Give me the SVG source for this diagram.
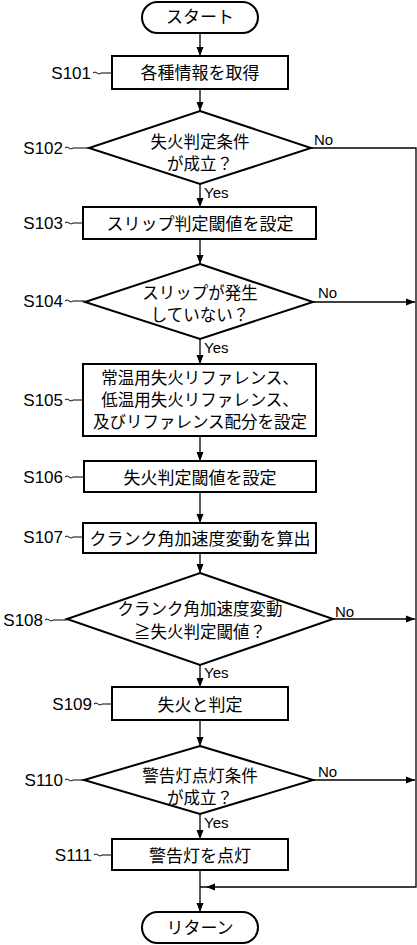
<svg xmlns="http://www.w3.org/2000/svg" width="417" height="945" viewBox="0 0 417 945">
<style>
.shape{fill:#fff;stroke:#000;stroke-width:2}
.line{fill:none;stroke:#000;stroke-width:1.3}
.lead{fill:none;stroke:#000;stroke-width:1}
.jp{font-family:"Noto Sans CJK JP","Noto Sans CJK SC",sans-serif;font-size:17px;text-anchor:middle;fill:#000}
.jm{font-family:"Noto Sans CJK JP","Noto Sans CJK SC",sans-serif;font-size:16.5px;text-anchor:middle;fill:#000}
.lbl{font-family:"Liberation Sans",Arial,sans-serif;font-size:17px;text-anchor:end;fill:#000}
.yn{font-family:"Liberation Sans",Arial,sans-serif;font-size:15px;fill:#000}
</style>
<defs>
<marker id="arr" markerUnits="userSpaceOnUse" markerWidth="10" markerHeight="7" refX="9" refY="3.5" orient="auto" overflow="visible">
<path d="M0,0 L9,3.5 L0,7 z" fill="#000"/>
</marker>
<marker id="arrOff" markerUnits="userSpaceOnUse" markerWidth="16" markerHeight="7" refX="15" refY="3.5" orient="auto" overflow="visible">
<path d="M0,0 L9,3.5 L0,7 z" fill="#000"/>
</marker>
</defs>

<g id="connectors">
<line class="line" x1="200" y1="33" x2="200" y2="56" marker-end="url(#arr)"/>
<line class="line" x1="200" y1="89" x2="200" y2="111" marker-end="url(#arr)"/>
<line class="line" x1="200" y1="184" x2="200" y2="207" marker-end="url(#arr)"/>
<line class="line" x1="200" y1="239" x2="200" y2="264" marker-end="url(#arr)"/>
<line class="line" x1="200" y1="339" x2="200" y2="364" marker-end="url(#arr)"/>
<line class="line" x1="200" y1="436" x2="200" y2="461" marker-end="url(#arr)"/>
<line class="line" x1="200" y1="492" x2="200" y2="523" marker-end="url(#arr)"/>
<line class="line" x1="200" y1="553" x2="200" y2="573" marker-end="url(#arr)"/>
<line class="line" x1="200" y1="665" x2="200" y2="687" marker-end="url(#arr)"/>
<line class="line" x1="200" y1="720" x2="200" y2="746" marker-end="url(#arr)"/>
<line class="line" x1="200" y1="814" x2="200" y2="839" marker-end="url(#arr)"/>
<line class="line" x1="200" y1="870" x2="200" y2="912" marker-end="url(#arr)"/>
<polyline class="line" points="311,148 416,148 416,887 200,887" marker-end="url(#arrOff)"/>
<line class="line" x1="313" y1="302" x2="415" y2="302" marker-end="url(#arr)"/>
<line class="line" x1="333" y1="619" x2="415" y2="619" marker-end="url(#arr)"/>
<line class="line" x1="313" y1="780" x2="415" y2="780" marker-end="url(#arr)"/>
<text class="yn" x="204" y="198">Yes</text>
<text class="yn" x="204" y="353">Yes</text>
<text class="yn" x="204" y="678">Yes</text>
<text class="yn" x="204" y="828">Yes</text>
<text class="yn" x="314" y="145">No</text>
<text class="yn" x="318" y="298">No</text>
<text class="yn" x="335" y="617">No</text>
<text class="yn" x="318" y="777">No</text>
</g>

<g id="start">
<rect class="shape" x="142" y="2" width="116" height="31" rx="15.5"/>
<text class="jp" x="200" y="23">スタート</text>
</g>

<g id="S101">
<rect class="shape" x="112" y="56" width="176" height="33"/>
<text class="jp" x="200" y="79">各種情報を取得</text>
<text class="lbl" x="91" y="79">S101</text>
<path class="lead" d="M93,73 C96,70 98,76 101,73 L112,73"/>
</g>

<g id="S102">
<polygon class="shape" points="200,111 311,148 200,184 89,148"/>
<text class="jm" x="200" y="148">失火判定条件</text>
<text class="jm" x="200" y="170">が成立？</text>
<text class="lbl" x="63" y="154">S102</text>
<path class="lead" d="M65,148 C68,145 70,151 73,148 L89,148"/>
</g>

<g id="S103">
<rect class="shape" x="83" y="207" width="233" height="32"/>
<text class="jp" x="200" y="229.5">スリップ判定閾値を設定</text>
<text class="lbl" x="63" y="229">S103</text>
<path class="lead" d="M65,223 C68,220 70,226 73,223 L83,223"/>
</g>

<g id="S104">
<polygon class="shape" points="200,264 313,302 200,339 85,302"/>
<text class="jm" x="200" y="298.5">スリップが発生</text>
<text class="jm" x="200" y="320.5">していない？</text>
<text class="lbl" x="63" y="307">S104</text>
<path class="lead" d="M65,301 C68,298 70,304 73,301 L85,301"/>
</g>

<g id="S105">
<rect class="shape" x="83" y="364" width="233" height="72"/>
<text class="jm" x="200" y="384">常温用失火リファレンス、</text>
<text class="jm" x="200" y="406">低温用失火リファレンス、</text>
<text class="jm" x="200" y="428">及びリファレンス配分を設定</text>
<text class="lbl" x="63" y="406">S105</text>
<path class="lead" d="M65,400 C68,397 70,403 73,400 L83,400"/>
</g>

<g id="S106">
<rect class="shape" x="84" y="461" width="232" height="31"/>
<text class="jp" x="200" y="483.5">失火判定閾値を設定</text>
<text class="lbl" x="63" y="483">S106</text>
<path class="lead" d="M65,477 C68,474 70,480 73,477 L84,477"/>
</g>

<g id="S107">
<rect class="shape" x="83" y="523" width="233" height="30"/>
<text class="jp" x="200" y="544.5">クランク角加速度変動を算出</text>
<text class="lbl" x="63" y="543">S107</text>
<path class="lead" d="M65,537 C68,534 70,540 73,537 L83,537"/>
</g>

<g id="S108">
<polygon class="shape" points="200,573 333,619 200,665 67,619"/>
<text class="jm" x="200" y="614.5">クランク角加速度変動</text>
<text class="jm" x="200" y="638">≧失火判定閾値？</text>
<text class="lbl" x="43" y="626">S108</text>
<path class="lead" d="M45,620 C48,617 50,623 53,620 L67,620"/>
</g>

<g id="S109">
<rect class="shape" x="112" y="687" width="176" height="33"/>
<text class="jp" x="200" y="710.5">失火と判定</text>
<text class="lbl" x="92" y="710">S109</text>
<path class="lead" d="M94,704 C97,701 99,707 102,704 L112,704"/>
</g>

<g id="S110">
<polygon class="shape" points="200,746 313,780 200,814 84,780"/>
<text class="jm" x="200" y="782">警告灯点灯条件</text>
<text class="jm" x="200" y="804">が成立？</text>
<text class="lbl" x="63" y="786">S110</text>
<path class="lead" d="M65,780 C68,777 70,783 73,780 L84,780"/>
</g>

<g id="S111">
<rect class="shape" x="112" y="839" width="176" height="31"/>
<text class="jp" x="200" y="861.5">警告灯を点灯</text>
<text class="lbl" x="92" y="861">S111</text>
<path class="lead" d="M94,855 C97,852 99,858 102,855 L112,855"/>
</g>

<g id="return">
<rect class="shape" x="142" y="912" width="116" height="31" rx="15.5"/>
<text class="jp" x="200" y="934">リターン</text>
</g>
</svg>
